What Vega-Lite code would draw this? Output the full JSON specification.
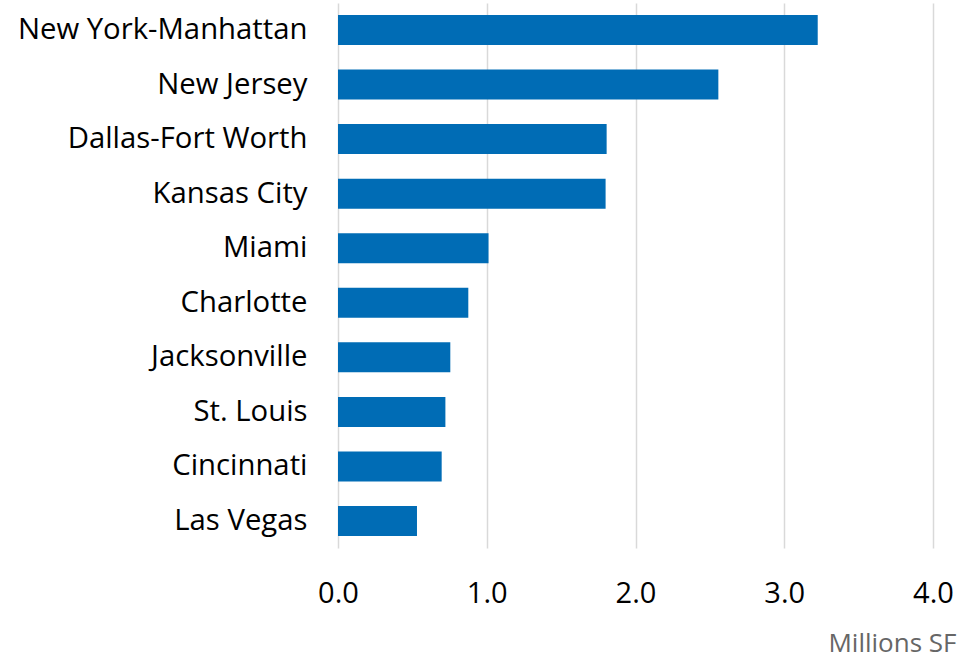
{
  "$schema": "https://vega.github.io/schema/vega-lite/v6.json",
  "width": 595,
  "height": 545,
  "autosize": {"type": "none"},
  "padding": {"left": 338, "top": 3, "right": 25, "bottom": 108},
  "background": "white",
  "config": {"view": {"stroke": null}, "font": "Open Sans"},
  "data": {
    "values": [
      {"market": "New York-Manhattan", "sf": 3.225},
      {"market": "New Jersey", "sf": 2.557},
      {"market": "Dallas-Fort Worth", "sf": 1.806},
      {"market": "Kansas City", "sf": 1.799},
      {"market": "Miami", "sf": 1.012},
      {"market": "Charlotte", "sf": 0.876},
      {"market": "Jacksonville", "sf": 0.755},
      {"market": "St. Louis", "sf": 0.722},
      {"market": "Cincinnati", "sf": 0.697},
      {"market": "Las Vegas", "sf": 0.531}
    ]
  },
  "mark": {"type": "bar", "color": "#006CB5"},
  "encoding": {
    "y": {
      "field": "market",
      "type": "nominal",
      "sort": null,
      "scale": {"paddingInner": 0.45, "paddingOuter": 0.22},
      "axis": {
        "title": null,
        "domain": false,
        "ticks": false,
        "tickSize": 0,
        "grid": false,
        "labelFont": "Open Sans",
        "labelFontSize": 29.3,
        "labelColor": "#000000",
        "labelPadding": 31,
        "labelLimit": 500,
        "labelBaseline": "middle"
      }
    },
    "x": {
      "field": "sf",
      "type": "quantitative",
      "scale": {"domain": [0, 4], "nice": false},
      "axis": {
        "values": [0, 1, 2, 3, 4],
        "format": ".1f",
        "domain": false,
        "ticks": false,
        "tickSize": 0,
        "grid": true,
        "gridColor": "#d9d9d9",
        "gridWidth": 1.5,
        "labelFont": "Open Sans",
        "labelFontSize": 29,
        "labelColor": "#000000",
        "labelBaseline": "alphabetic",
        "labelPadding": 54,
        "labelFlush": false,
        "title": "Millions SF",
        "titleFont": "Open Sans",
        "titleFontSize": 26,
        "titleFontWeight": "normal",
        "titleColor": "#666666",
        "titleAnchor": null,
        "titleAlign": "right",
        "titleBaseline": "alphabetic",
        "titleX": 618,
        "titleY": 103
      }
    }
  }
}
